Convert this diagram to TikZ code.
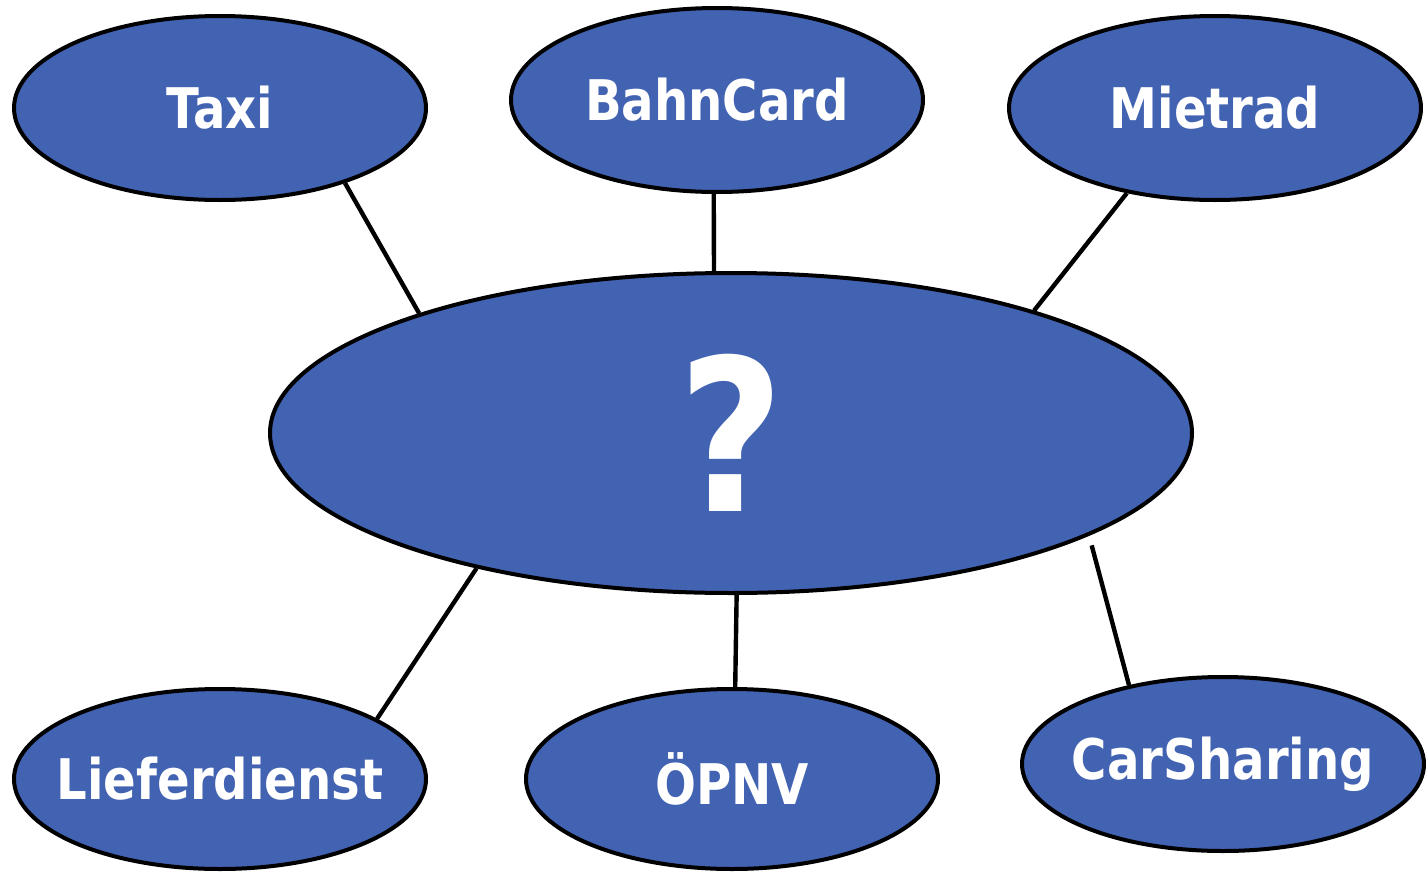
\documentclass[tikz,border=0pt]{standalone}
\usepackage{fontspec}
\setmainfont{DejaVu Sans}[FakeStretch=0.86]
\usetikzlibrary{shapes.geometric}
\definecolor{bubbleblue}{RGB}{66,98,178}

\begin{document}
\begin{tikzpicture}[x=0.5pt,y=-0.5pt,
 bubble/.style={ellipse, draw=black, fill=bubbleblue, line width=2pt, inner ysep=0pt,
  inner xsep=-14pt, text=white, font=\fontsize{28}{30}\selectfont\bfseries,
  minimum width=206pt, minimum height=92pt},
 link/.style={line width=2.2pt}]
\useasboundingbox (0,0) rectangle (1426,873);
 \node[bubble] (taxi) at (220,108) {Taxi};
 \node[bubble] (bahncard) at (717,100) {BahnCard};
 \node[bubble] (mietrad) at (1215,108) {Mietrad};
 \node[bubble, minimum width=461pt, minimum height=160pt,
  font=\fontsize{106}{110}\selectfont\bfseries] (hub) at (731,433) {?};
 \node[bubble, minimum height=90pt] (liefer) at (220,779) {Lieferdienst};
 \node[bubble, minimum height=90pt] (opnv) at (732,779) {ÖPNV};
 \node[bubble, minimum width=201pt, minimum height=87pt] (carsharing) at (1223,764) {CarSharing};
 \draw[link] (taxi.-31) -- (hub.159);
 \draw[link] (bahncard.-92) -- (hub.96);
 \draw[link] (mietrad.-136) -- (hub.22);
 \draw[link] (liefer.21) -- (hub.-152);
 \draw[link] (opnv.88) -- (hub.-88);
 \draw[link, shorten >=5pt] (carsharing.140) -- (hub.-16);
\end{tikzpicture}
\end{document}
